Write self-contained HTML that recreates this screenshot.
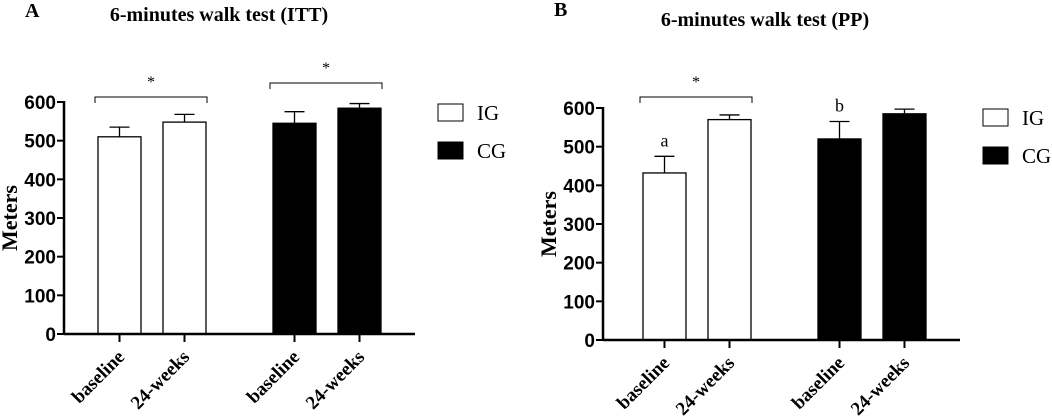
<!DOCTYPE html>
<html><head><meta charset="utf-8"><style>
body{margin:0;background:#fff;width:1052px;height:418px;overflow:hidden}
svg{display:block}
.serif{font-family:"Liberation Serif",serif}
.sans{font-family:"Liberation Sans",sans-serif}
</style></head><body>
<svg id="chart" width="1052" height="418"></svg>
<script>
const categories = ["baseline","24-weeks","baseline","24-weeks"];
const groups = ["IG","IG","CG","CG"];
const ittValues = [510,548,545,584];
const ittErrors = [25,20,30,12];
const ppValues = [432,570,520,585];
const ppErrors = [43,12,45,12];
const yTicks = [0,100,200,300,400,500,600];

const NS="http://www.w3.org/2000/svg";
const svg=document.getElementById('chart');
function mk(tag,attrs,parent,text){const e=document.createElementNS(NS,tag);for(const k in attrs)e.setAttribute(k,attrs[k]);if(text!==undefined)e.textContent=text;(parent||svg).appendChild(e);return e;}

function panel(cfg){
  const g=mk('g',{});
  
  
  const y=v=>cfg.y0-(v/600)*(cfg.y0-cfg.y600);
  const bx=i=>cfg.barX[i];
  const bw=43;
  let t=mk('text',{x:cfg.letterX,y:cfg.letterY,'font-size':20,'font-weight':'bold',class:'serif'},g,cfg.letter);
  
  t=mk('text',{x:cfg.titleX,y:cfg.titleY,'font-size':20,'font-weight':'bold',class:'serif','text-anchor':'middle'},g,cfg.title);
  
  cfg.values.forEach((v,i)=>{
    const cx=bx(i)+bw/2;
    const top=y(v+cfg.errors[i]);
    let l=mk('line',{x1:cx,x2:cx,y1:y(v),y2:top,stroke:'#000','stroke-width':1.3},g);
    
    l=mk('line',{x1:cx-10,x2:cx+10,y1:top,y2:top,stroke:'#000','stroke-width':1.3},g);
    
    const r=mk('rect',{x:bx(i),y:y(v),width:bw,height:cfg.y0-y(v),fill:groups[i]==='IG'?'#fff':'#000',stroke:'#000','stroke-width':1.3},g);
    
    
    l=mk('line',{x1:cx,x2:cx,y1:cfg.y0,y2:cfg.y0+8,stroke:'#000','stroke-width':2},g);
    
    const lab=mk('text',{transform:`translate(${cx+6},${cfg.y0+24}) rotate(-45)`,'font-size':19,'font-weight':'bold',class:'serif','text-anchor':'end'},g,categories[i]);
    
  });
  let a=mk('line',{x1:cfg.axisX,x2:cfg.axisX,y1:y(600)-1,y2:cfg.y0+1,stroke:'#000','stroke-width':2.5},g);
  
  a=mk('line',{x1:cfg.axisX,x2:cfg.axisEnd,y1:cfg.y0,y2:cfg.y0,stroke:'#000','stroke-width':2.5},g);
  
  yTicks.forEach(v=>{
    let l=mk('line',{x1:cfg.axisX-7,x2:cfg.axisX,y1:y(v),y2:y(v),stroke:'#000','stroke-width':2},g);
    
    let tx=mk('text',{x:cfg.axisX-8,y:y(v)+7,'font-size':19,'font-weight':'bold',class:'sans','text-anchor':'end'},g,v);
    
  });
  t=mk('text',{transform:`translate(${cfg.axisX-47},${(cfg.y0+y(600))/2}) rotate(-90)`,'font-size':22,'font-weight':'bold',class:'serif','text-anchor':'middle'},g,'Meters');
  
  cfg.brackets.forEach(b=>{
    const x1=bx(b[0])-3,x2=bx(b[1])+bw+1,yy=b[2];
    const p=mk('path',{d:`M${x1} ${yy+6}V${yy}H${x2}V${yy+6}`,fill:'none',stroke:'#000','stroke-width':1},g);
    
    const s=mk('text',{x:(x1+x2)/2,y:yy-10,'font-size':16,class:'serif','text-anchor':'middle'},g,'*');
    
  });
  (cfg.letters||[]).forEach(L=>{
    const i=L[0];
    const s=mk('text',{x:bx(i)+bw/2,y:y(cfg.values[i]+cfg.errors[i])-10,'font-size':18,class:'serif','text-anchor':'middle'},g,L[1]);
    
  });
  [['IG','#fff'],['CG','#000']].forEach((e,k)=>{
    const yy=cfg.legY+k*38;
    const r=mk('rect',{x:cfg.legX,y:yy,width:25,height:17,fill:e[1],stroke:'#000','stroke-width':1},g);
    
    const tx=mk('text',{x:cfg.legX+39,y:yy+16,'font-size':21,class:'serif'},g,e[0]);
    
  });
}
panel({name:'panel-itt',letter:'A',letterX:25,letterY:17,title:'6-minutes walk test (ITT)',titleX:219,titleY:21,
  y0:334,y600:102,axisX:64,axisEnd:415,barX:[98,163,273,338],values:ittValues,errors:ittErrors,
  brackets:[[0,1,97],[2,3,83]],legX:438,legY:104});
panel({name:'panel-pp',letter:'B',letterX:554,letterY:16,title:'6-minutes walk test (PP)',titleX:765,titleY:26,
  y0:340,y600:108,axisX:603,axisEnd:960,barX:[643,708,818,883],values:ppValues,errors:ppErrors,
  brackets:[[0,1,97]],letters:[[0,'a'],[2,'b']],legX:983,legY:109});
</script>
</body></html>
